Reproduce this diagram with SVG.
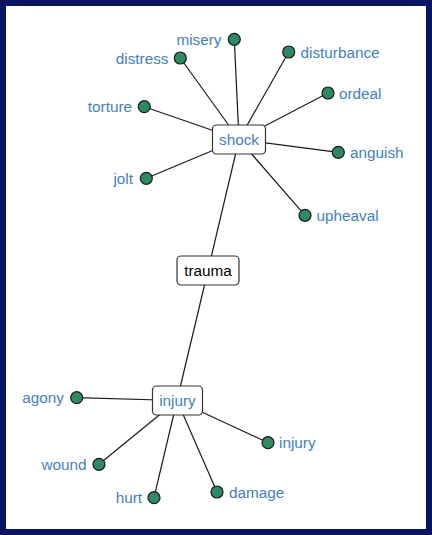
<svg xmlns="http://www.w3.org/2000/svg" width="432" height="535" viewBox="0 0 432 535">
<style>
.e{stroke:#1a1a1a;stroke-width:1.2;fill:none}
.d{fill:#2e8a62;stroke:#1a1a1a;stroke-width:1.2}
.t{font-family:"Liberation Sans",Arial,sans-serif;font-size:15.3px;fill:#4480bd}
.b{fill:#fff;stroke:#333;stroke-width:1.2}
.bt{font-family:"Liberation Sans",Arial,sans-serif;font-size:15.3px;text-anchor:middle}
.r{text-anchor:end}
</style>
<rect x="0" y="0" width="432" height="535" fill="#0b1660"/>
<rect x="6" y="6" width="420" height="523" fill="#fff"/>
<g id="connectors">
<line class="e" x1="239" y1="139.5" x2="208" y2="270.5"/>
<line class="e" x1="208" y1="270.5" x2="177" y2="400.5"/>
<line class="e" x1="239" y1="139.5" x2="234.3" y2="39.3"/>
<line class="e" x1="239" y1="139.5" x2="180.3" y2="58"/>
<line class="e" x1="239" y1="139.5" x2="288.7" y2="52"/>
<line class="e" x1="239" y1="139.5" x2="328" y2="93"/>
<line class="e" x1="239" y1="139.5" x2="144.3" y2="106.7"/>
<line class="e" x1="239" y1="139.5" x2="338.3" y2="152.3"/>
<line class="e" x1="239" y1="139.5" x2="146.3" y2="178.3"/>
<line class="e" x1="239" y1="139.5" x2="305" y2="215.3"/>
<line class="e" x1="177" y1="400.5" x2="76.7" y2="397.7"/>
<line class="e" x1="177" y1="400.5" x2="99" y2="464.3"/>
<line class="e" x1="177" y1="400.5" x2="154" y2="497.7"/>
<line class="e" x1="177" y1="400.5" x2="217" y2="492"/>
<line class="e" x1="177" y1="400.5" x2="268" y2="442.7"/>
</g>
<g id="shock"><rect class="b" x="212.5" y="125" width="53" height="29" rx="4"/><text class="bt" x="239" y="145" fill="#4480bd">shock</text></g>
<g id="trauma"><rect class="b" x="177" y="256" width="62" height="29" rx="4"/><text class="bt" x="208" y="276" fill="#000">trauma</text></g>
<g id="injury"><rect class="b" x="152.5" y="386" width="50" height="29" rx="4"/><text class="bt" x="177.5" y="406" fill="#4480bd">injury</text></g>
<g id="misery"><circle class="d" cx="234.3" cy="39.3" r="6"/><text class="t r" x="221.5" y="45">misery</text></g>
<g id="distress"><circle class="d" cx="180.3" cy="58" r="6"/><text class="t r" x="168.5" y="64">distress</text></g>
<g id="disturbance"><circle class="d" cx="288.7" cy="52" r="6"/><text class="t" x="300.5" y="57.5">disturbance</text></g>
<g id="ordeal"><circle class="d" cx="328" cy="93" r="6"/><text class="t" x="339" y="98.5">ordeal</text></g>
<g id="torture"><circle class="d" cx="144.3" cy="106.7" r="6"/><text class="t r" x="132" y="112">torture</text></g>
<g id="anguish"><circle class="d" cx="338.3" cy="152.3" r="6"/><text class="t" x="350" y="158">anguish</text></g>
<g id="jolt"><circle class="d" cx="146.3" cy="178.3" r="6"/><text class="t r" x="133" y="184">jolt</text></g>
<g id="upheaval"><circle class="d" cx="305" cy="215.3" r="6"/><text class="t" x="316.5" y="221">upheaval</text></g>
<g id="agony"><circle class="d" cx="76.7" cy="397.7" r="6"/><text class="t r" x="64" y="403">agony</text></g>
<g id="wound"><circle class="d" cx="99" cy="464.3" r="6"/><text class="t r" x="86.5" y="470">wound</text></g>
<g id="hurt"><circle class="d" cx="154" cy="497.7" r="6"/><text class="t r" x="142" y="503">hurt</text></g>
<g id="damage"><circle class="d" cx="217" cy="492" r="6"/><text class="t" x="229" y="497.5">damage</text></g>
<g id="injury-leaf"><circle class="d" cx="268" cy="442.7" r="6"/><text class="t" x="279" y="448">injury</text></g>
</svg>
